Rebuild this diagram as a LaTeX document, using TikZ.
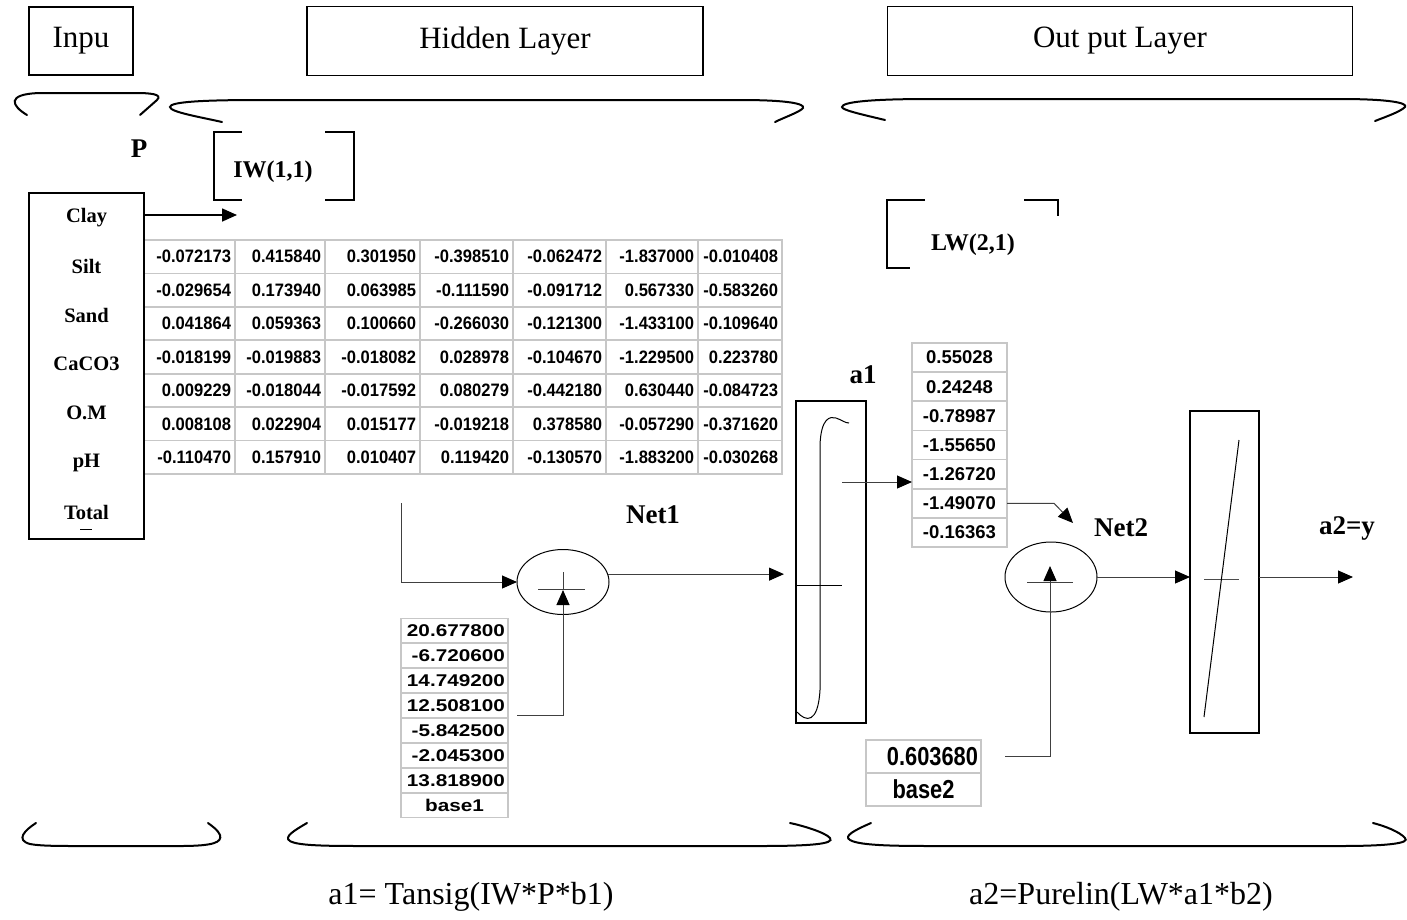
\documentclass[tikz,border=0pt]{standalone}
\usepackage{fontspec}
\setmainfont{Liberation Serif}
\newfontfamily\wfont{Liberation Sans}[FakeStretch=0.92]
\newfontfamily\afont{Liberation Sans}
\newfontfamily\bfont{Liberation Sans}[FakeStretch=1.22]
\newfontfamily\cfont{Liberation Sans}[FakeStretch=0.84]
\usetikzlibrary{arrows.meta,shapes.geometric}
\begin{document}
\begin{tikzpicture}[x=1pt,y=-1pt,
 every node/.style={inner sep=0pt, outer sep=0pt},
 hbox/.style={draw, line width=1.4pt, font=\fontsize{31}{36}\selectfont},
 blab/.style={font=\fontsize{27}{30}\selectfont\bfseries},
 ilab/.style={font=\fontsize{20.5}{24}\selectfont\bfseries},
 bracestroke/.style={line width=2pt, line cap=round},
 brk/.style={line width=1.8pt},
 cellgrid/.style={draw=black!22, line width=1.6pt},
 wnum/.style={font=\wfont\bfseries\fontsize{18}{20}\selectfont},
 bnum/.style={font=\bfont\bfseries\fontsize{17}{20}\selectfont},
 anum/.style={font=\afont\bfseries\fontsize{18.5}{22}\selectfont},
 cnum/.style={font=\cfont\bfseries\fontsize{26}{28}\selectfont},
 conn/.style={draw=black!75, line width=1pt},
 arr/.style={-{Triangle[length=15pt,width=13pt,color=black]}},
 fbox/.style={draw, line width=1.3pt},
 formula/.style={font=\fontsize{32}{36}\selectfont}
]
\fill[white] (0,0) rectangle (1407,919);
\useasboundingbox (0,0) rectangle (1407,919);

% header boxes
\node[hbox, minimum width=104pt, minimum height=68pt] (inpu) at (81,41) {Inpu};
\node[hbox, minimum width=396pt, minimum height=69pt] (hid) at (505,41) {Hidden Layer};
\node[hbox, minimum width=465pt, minimum height=69pt] (outl) at (1120,41) {Out put Layer};

% top braces
\draw[bracestroke] (140,115) -- (157,100) .. controls (163,94) and (150,93) .. (135,93) -- (40,93) .. controls (5,94) and (12,106) .. (27,115);
\draw[bracestroke] (222,122) .. controls (200,117) and (170,112) .. (170,107) .. controls (170,102) and (200,100) .. (260,100) -- (740,100) .. controls (790,100) and (805,104) .. (803,108) .. controls (800,112) and (785,117) .. (775,122);
\draw[bracestroke] (885,120) .. controls (860,114) and (842,110) .. (842,107) .. controls (842,102) and (870,99) .. (930,99) -- (1340,99) .. controls (1390,99) and (1408,103) .. (1405,107) .. controls (1400,112) and (1385,117) .. (1375,121);

% bottom braces
\draw[bracestroke] (36,823) .. controls (25,830) and (15,840) .. (30,844) .. controls (40,846) and (60,846) .. (80,846) -- (180,846) .. controls (215,846) and (222,842) .. (220,835) .. controls (218,830) and (212,826) .. (208,823);
\draw[bracestroke] (307,823) .. controls (295,830) and (283,837) .. (290,841) .. controls (298,846) and (330,846) .. (370,846) -- (760,846) .. controls (810,846) and (835,844) .. (830,838) .. controls (825,832) and (800,825) .. (790,823);
\draw[bracestroke] (871,823) .. controls (855,830) and (843,836) .. (850,840) .. controls (860,846) and (900,846) .. (940,846) -- (1340,846) .. controls (1390,846) and (1410,843) .. (1405,838) .. controls (1400,832) and (1385,826) .. (1373,823);

% labels
\node[blab] (plab) at (139,149) {P};
\node[font=\fontsize{24}{28}\selectfont\bfseries] (iwlab) at (273,172) {IW(1,1)};
\node[font=\fontsize{24}{28}\selectfont\bfseries] (lwlab) at (973,245) {LW(2,1)};
\node[blab] (net1) at (653,515) {Net1};
\node[blab] (a1lab) at (863,375) {a1};
\node[blab] (net2) at (1121,528) {Net2};
\node[blab] (a2lab) at (1347,528) {a2=y};

% brackets
\draw[brk] (242,132) -- (214,132) -- (214,200) -- (242,200);
\draw[brk] (325,132) -- (354,132) -- (354,200) -- (325,200);
\draw[brk] (925,200) -- (887,200) -- (887,268) -- (910,268);
\draw[brk] (1024,200) -- (1058,200) -- (1058,216);

% input box
\node[fbox, minimum width=115pt, minimum height=346pt] (inbox) at (86.5,366) {};
\node[ilab] (l1) at (86.5,218) {Clay};
\node[ilab] (l2) at (86.5,266) {Silt};
\node[ilab] (l3) at (86.5,315) {Sand};
\node[ilab] (l4) at (86.5,364) {CaCO3};
\node[ilab] (l5) at (86.5,413) {O.M};
\node[ilab] (l6) at (86.5,463) {pH};
\node[ilab] (l7) at (86.5,512) {Total};
\draw[line width=1pt] (80,529) -- (92,529);

% weight table
\def\colR{{144,235,325,420,513,606,698,782}}
\foreach \r/\vals in {
 1/{-0.072173,0.415840,0.301950,-0.398510,-0.062472,-1.837000,-0.010408},
 2/{-0.029654,0.173940,0.063985,-0.111590,-0.091712,0.567330,-0.583260},
 3/{0.041864,0.059363,0.100660,-0.266030,-0.121300,-1.433100,-0.109640},
 4/{-0.018199,-0.019883,-0.018082,0.028978,-0.104670,-1.229500,0.223780},
 5/{0.009229,-0.018044,-0.017592,0.080279,-0.442180,0.630440,-0.084723},
 6/{0.008108,0.022904,0.015177,-0.019218,0.378580,-0.057290,-0.371620},
 7/{-0.110470,0.157910,0.010407,0.119420,-0.130570,-1.883200,-0.030268}}{
  \foreach \v [count=\c] in \vals {
    \pgfmathsetmacro\xl{\colR[\c-1]}
    \pgfmathsetmacro\xr{\colR[\c]}
    \pgfmathsetmacro\yt{240+(\r-1)*33.43}
    \draw[cellgrid] (\xl,\yt) rectangle (\xr,\yt+33.43);
    \node[wnum, anchor=east] (w-\r-\c) at (\xr-4,\yt+16.7) {\v};
  }
}
\draw[line width=1.3pt] (144,193) -- (144,539);

% bias 1 table
\foreach \v [count=\i] in {20.677800,-6.720600,14.749200,12.508100,-5.842500,-2.045300,13.818900} {
  \node[cellgrid, bnum, minimum width=107pt, minimum height=24.92pt, text width=101pt, align=right] (b1-\i) at (454.5,618.3+\i*24.92-12.46) {\v};
}
\node[cellgrid, bnum, minimum width=107pt, minimum height=24.92pt] (b1-8) at (454.5,618.3+8*24.92-12.46) {base1};

% a1 table
\foreach \v [count=\i] in {0.55028,0.24248,-0.78987,-1.55650,-1.26720,-1.49070,-0.16363} {
  \node[cellgrid, anum, minimum width=95pt, minimum height=29.14pt] (a1-\i) at (959.5,343+\i*29.14-14.57) {\v};
}

% base2 table
\node[cellgrid, cnum, minimum width=115pt, minimum height=33pt, text width=109pt, align=right] (b2-1) at (923.5,756.5) {0.603680};
\node[cellgrid, cnum, minimum width=115pt, minimum height=33pt] (b2-2) at (923.5,789.5) {base2};

% summation nodes
\node[draw, ellipse, line width=1pt, minimum width=92pt, minimum height=65pt] (sum1) at (563,582) {};
\node[draw, ellipse, line width=1pt, minimum width=92pt, minimum height=70pt] (sum2) at (1051,577) {};
\draw[conn] (538,589) -- (585,589);
\draw[conn] (563,572) -- (563,590);
\draw[conn] (1027,582) -- (1073,582);

% transfer boxes
\node[fbox, minimum width=70pt, minimum height=322pt] (tan) at (831,562) {};
\node[fbox, minimum width=69pt, minimum height=322pt] (pur) at (1224.5,572) {};
\draw[line width=1pt] (796,585) -- (842,585);
\draw[line width=1pt] (797,712) .. controls (806,722) and (818,724) .. (820,690) -- (820,445) .. controls (821,418) and (830,416) .. (836,418) .. controls (842,420) and (845,423) .. (849,423);
\draw[line width=1pt, draw=black!70] (1204,579) -- (1239,579);
\draw[line width=1pt] (1204,717) -- (1239,440);

% connectors
\coordinate (clayA) at (144,215);
\coordinate (clayB) at (237,215);
\draw[line width=1.6pt, arr] (clayA) -- (clayB);

\coordinate (wOut) at (401,503);
\draw[conn, arr] (wOut) |- (sum1.west);

\coordinate (b1out) at (517,715);
\coordinate (b1tip) at (563,590);
\draw[conn, arr] (b1out) -| (b1tip);

\draw[conn, arr, shorten >=12pt] (sum1.10) -- (sum1.10 -| tan.west);

\coordinate (tanOut) at (842,482);
\draw[conn, arr] (tanOut) -- (tanOut -| a1-5.west);

\coordinate (n2tip) at (1073,523);
\draw[conn, arr] (a1-6.east) -- ++(47,0) -- (n2tip);

\coordinate (b2out) at (1005,756);
\coordinate (b2tip) at (1050,566);
\draw[conn, arr] (b2out) -| (b2tip);

\draw[conn, arr] (sum2.east) -- (pur.west |- sum2.east);

\coordinate (yout) at (1353,577);
\draw[conn, arr] (pur.east |- yout) -- (yout);

% formulas
\node[formula] (f1) at (471,897) {a1= Tansig(IW*P*b1)};
\node[formula] (f2) at (1121,897) {a2=Purelin(LW*a1*b2)};
\end{tikzpicture}
\end{document}
